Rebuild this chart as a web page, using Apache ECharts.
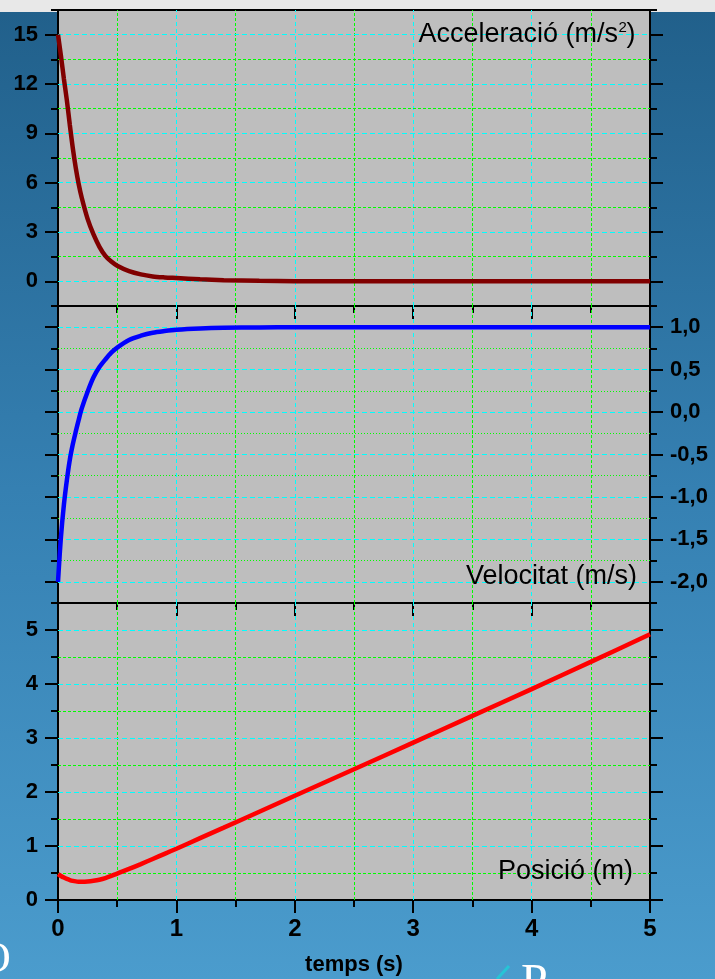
<!DOCTYPE html>
<html>
<head>
<meta charset="utf-8">
<script src="https://cdn.jsdelivr.net/npm/echarts@6/dist/echarts.min.js"></script>
<style>
  html, body { margin: 0; padding: 0; width: 715px; height: 979px; overflow: hidden;
    background: linear-gradient(to bottom, #e8e8e8 0px, #e8e8e8 12px, #21608b 12px, #3580b2 50%, #4b9ccd 100%); }
  #chart { width: 715px; height: 979px; }
</style>
</head>
<body>
<div id="chart"></div>
<script>
// Sampled motion curves (time in seconds)
const times        = [0, 0.025, 0.05, 0.075, 0.1, 0.125, 0.15, 0.175, 0.2, 0.25, 0.3, 0.35, 0.4, 0.45, 0.5,
                      0.6, 0.7, 0.8, 0.9, 1.0, 1.2, 1.4, 1.7, 2, 2.5, 3, 3.5, 4, 4.5, 5];
const acceleration = [15, 13.7, 12.3, 11.0, 9.5, 8.1, 6.9, 5.9, 5.1, 3.8, 2.85, 2.1, 1.55, 1.2, 0.95,
                      0.62, 0.42, 0.3, 0.24, 0.2, 0.12, 0.07, 0.03, 0.01, 0, 0, 0, 0, 0, 0];
const velocity     = [-2.0, -1.47, -1.09, -0.8, -0.56, -0.38, -0.23, -0.09, 0.04, 0.24, 0.41, 0.53, 0.62, 0.7, 0.76,
                      0.85, 0.9, 0.935, 0.955, 0.97, 0.985, 0.993, 0.998, 1.0, 1.0, 1.0, 1.0, 1.0, 1.0, 1.0];
const position     = [0.48, 0.445, 0.415, 0.39, 0.37, 0.355, 0.345, 0.34, 0.338, 0.342, 0.355, 0.375, 0.405, 0.445, 0.49,
                      0.575, 0.665, 0.76, 0.855, 0.95, 1.145, 1.34, 1.635, 1.93, 2.42, 2.915, 3.41, 3.905, 4.41, 4.92];

// Labelled (major) tick values
const timeTicks     = [0, 1, 2, 3, 4, 5];
const accelTicks    = [0, 3, 6, 9, 12, 15];
const velocityTicks = [-2, -1.5, -1, -0.5, 0, 0.5, 1];
const positionTicks = [0, 1, 2, 3, 4, 5];

// Minor grid values (between the labelled ticks)
const timeMinor     = [0.5, 1.5, 2.5, 3.5, 4.5];
const accelMinor    = [1.5, 4.5, 7.5, 10.5, 13.5];
const velocityMinor = [-1.75, -1.25, -0.75, -0.25, 0.25, 0.75];
const positionMinor = [0.5, 1.5, 2.5, 3.5, 4.5];

const CYAN = '#00ffff';
const GREEN = '#00ff00';
const BLACK = { color: '#000', width: 2 };
const LABEL_FONT = 'Liberation Sans, Arial, sans-serif';

const panels = [
  { top: 10,  height: 296, min: -1.5,  max: 16.5, step: 1.5,  ticks: accelTicks,    minor: accelMinor,
    side: 'left',  minorDash: [3, 2], pad: [0, 0, 10, 0], fmt: v => String(v) },
  { top: 306, height: 297, min: -2.25, max: 1.25, step: 0.25, ticks: velocityTicks, minor: velocityMinor,
    side: 'right', minorDash: [1, 2], pad: [0, 0, 0, 0], fmt: v => v.toFixed(1).replace('.', ',') },
  { top: 603, height: 297, min: 0,     max: 5.5,  step: 0.5,  ticks: positionTicks, minor: positionMinor,
    side: 'left',  minorDash: [3, 2], pad: [4, 0, 0, 0], fmt: v => String(v) }
];

const grids = [], xAxes = [], yAxes = [], series = [];

panels.forEach((p, i) => {
  grids.push({
    left: 58, right: 65, top: p.top, height: p.height,
    show: true, backgroundColor: '#bebebe', borderColor: '#000', borderWidth: 2,
    containLabel: false, outerBoundsMode: 'none'
  });

  // time axis, long ticks at whole seconds
  xAxes.push({
    gridIndex: i, type: 'value', position: 'bottom', min: 0, max: 5, interval: 1,
    axisLine: { show: true, onZero: false, lineStyle: BLACK },
    axisTick: { show: true, length: 13, lineStyle: BLACK },
    axisLabel: { show: i === 2, margin: 17, color: '#000', fontFamily: LABEL_FONT,
                 fontWeight: 'bold', fontSize: 24, customValues: timeTicks },
    splitLine: { show: false },
    name: i === 2 ? 'temps (s)' : '', nameLocation: 'middle', nameGap: 54,
    nameTextStyle: { color: '#000', fontFamily: LABEL_FONT, fontWeight: 'bold', fontSize: 22 }
  });
  // time axis, short ticks every half second
  xAxes.push({
    gridIndex: i, type: 'value', position: 'bottom', min: 0, max: 5, interval: 0.5,
    axisLine: { show: false, onZero: false },
    axisTick: { show: true, length: 7, lineStyle: BLACK },
    axisLabel: { show: false },
    splitLine: { show: false }
  });

  const labelStyle = { color: '#000', fontFamily: LABEL_FONT, fontWeight: 'bold', fontSize: 22,
                       margin: 20, padding: p.pad, formatter: p.fmt, customValues: p.ticks };

  ['left', 'right'].forEach(pos => {
    // short ticks at every step
    yAxes.push({
      gridIndex: i, type: 'value', position: pos, min: p.min, max: p.max, interval: p.step,
      axisLine: { show: false, onZero: false },
      axisTick: { show: true, length: 7, lineStyle: BLACK },
      axisLabel: { show: false },
      splitLine: { show: false }
    });
    // long ticks and numbers
    yAxes.push({
      gridIndex: i, type: 'value', position: pos, min: p.min, max: p.max, interval: p.step,
      axisLine: { show: true, onZero: false, lineStyle: BLACK },
      axisTick: { show: true, length: 13, lineStyle: BLACK, customValues: p.ticks },
      axisLabel: Object.assign({ show: pos === p.side }, labelStyle),
      splitLine: { show: false }
    });
  });

  // dashed reference grid drawn in the panel's own coordinates
  const inside = v => v > p.min && v < p.max;
  const majorStyle = { color: CYAN, width: 1, type: [5, 3] };
  const minorStyle = { color: GREEN, width: 1, type: p.minorDash };
  const lines = []
    .concat(timeTicks.filter(v => v > 0 && v < 5).map(v => ({ xAxis: v, lineStyle: { color: CYAN, width: 1, type: [4, 3] } })))
    .concat(timeMinor.map(v => ({ xAxis: v, lineStyle: { color: GREEN, width: 1, type: [3, 2] } })))
    .concat(p.ticks.filter(inside).map(v => ({ yAxis: v, lineStyle: majorStyle })))
    .concat(p.minor.filter(inside).map(v => ({ yAxis: v, lineStyle: minorStyle })));
  series.push({
    type: 'line', xAxisIndex: 2 * i, yAxisIndex: 4 * i + 1, data: [], z: 1, silent: true,
    markLine: { silent: true, symbol: ['none', 'none'], label: { show: false },
                emphasis: { disabled: true }, animation: false, data: lines }
  });
});

function pairs(values) { return times.map((t, k) => [t, values[k]]); }

const curveBase = { type: 'line', showSymbol: false, smooth: 0.3, z: 5, silent: true };
series.push(
  Object.assign({}, curveBase, { xAxisIndex: 0, yAxisIndex: 1, data: pairs(acceleration),
    lineStyle: { color: '#800000', width: 4.5 } }),
  Object.assign({}, curveBase, { xAxisIndex: 2, yAxisIndex: 5, data: pairs(velocity),
    lineStyle: { color: '#0000ff', width: 4.5 } }),
  Object.assign({}, curveBase, { xAxisIndex: 4, yAxisIndex: 9, data: pairs(position),
    lineStyle: { color: '#ff0000', width: 4.5 } })
);

const TITLE_FONT = '27px "Liberation Sans", Arial, sans-serif';
function caption(text, x, y, align, font, fill) {
  return { type: 'text', x: x, y: y, z: 20, silent: true,
    style: { text: text, font: font || TITLE_FONT, fill: fill || '#000',
             align: align, textAlign: align, verticalAlign: 'middle', textVerticalAlign: 'middle' } };
}

const graphics = [
  caption('Acceleració (m/s', 618, 34.6, 'right'),
  caption('2', 618.5, 27.8, 'left', '15px "Liberation Sans", Arial, sans-serif'),
  caption(')', 626.5, 34.6, 'left'),
  caption('Velocitat (m/s)', 637, 576.6, 'right'),
  caption('Posició (m)', 633, 871.6, 'right'),
  // fragments of the slide text below the chart
  caption('P', 521, 984, 'left', '48px "Liberation Serif", "Times New Roman", serif', '#ffffff'),
  caption('O', -21, 960, 'left', '44px "Liberation Serif", "Times New Roman", serif', '#ffffff'),
  { type: 'line', z: 20, silent: true, shape: { x1: 497, y1: 979, x2: 509, y2: 966 },
    style: { stroke: '#27c4d6', lineWidth: 3 } }
];

const chart = echarts.init(document.getElementById('chart'), null, { renderer: 'canvas' });
chart.setOption({
  backgroundColor: 'transparent',
  animation: false,
  grid: grids,
  xAxis: xAxes,
  yAxis: yAxes,
  series: series,
  graphic: graphics
});
</script>
</body>
</html>
